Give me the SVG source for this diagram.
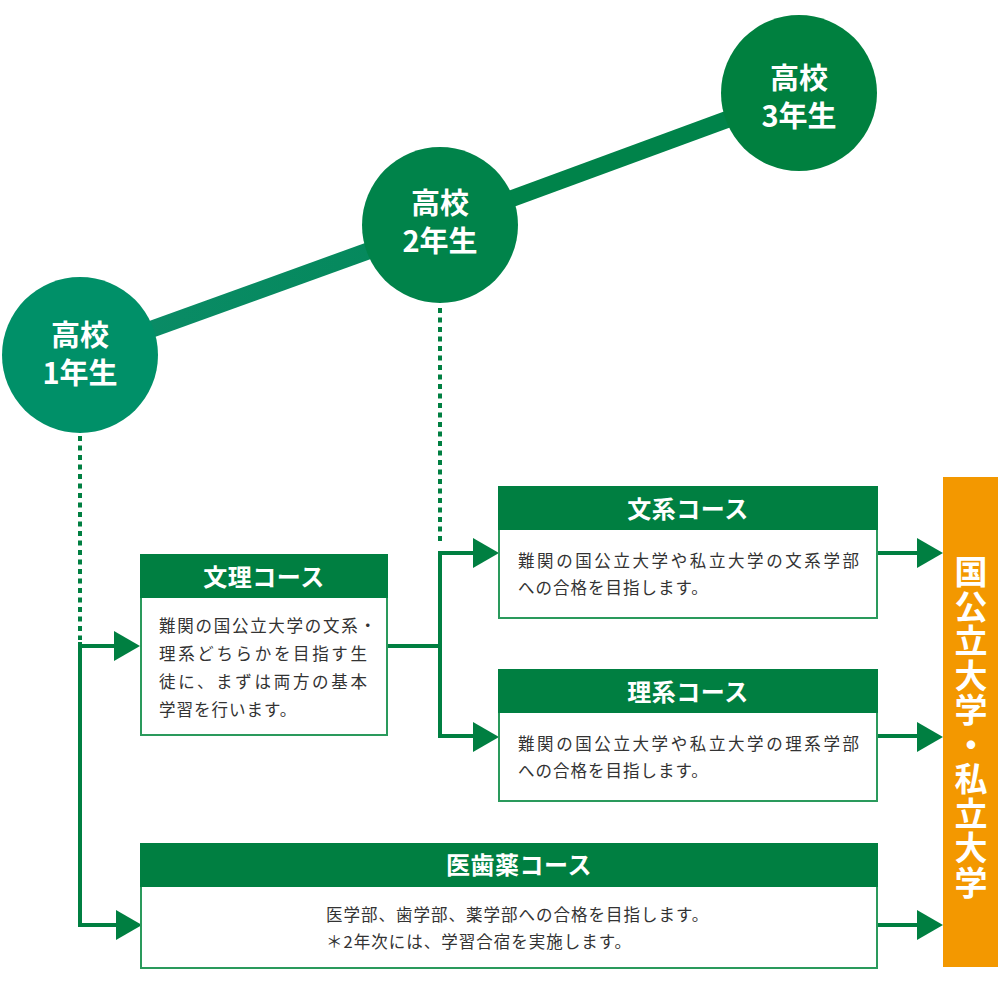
<svg xmlns="http://www.w3.org/2000/svg" width="1000" height="1000" viewBox="0 0 1000 1000">
<style>
.circ-text{font-family:"Noto Sans CJK JP","Noto Sans",sans-serif;font-size:29px;font-weight:bold;fill:#fff;text-anchor:middle;}
.hdr{fill:#007f41;}
.box{fill:#fff;stroke:#2a9a5c;stroke-width:2;}
.hdr-text{font-family:"Noto Sans CJK JP","Noto Sans",sans-serif;font-size:24px;font-weight:bold;fill:#fff;text-anchor:middle;letter-spacing:0.5px;}
.body{font-family:"Noto Sans CJK JP","Noto Sans",sans-serif;font-size:16.5px;fill:#333;letter-spacing:1px;}
.line{stroke:#007f41;stroke-width:4;fill:none;}
.dot{stroke:#007f41;stroke-width:4;fill:none;stroke-dasharray:5 4.5;}
.arrow{fill:#007f41;}
.uni{font-family:"Noto Sans CJK JP","Noto Sans",sans-serif;font-size:33px;font-weight:bold;fill:#fff;letter-spacing:1.5px;writing-mode:vertical-rl;}
</style>
<defs>
<linearGradient id="g12" x1="0" y1="0" x2="1" y2="0">
<stop offset="0" stop-color="#0b8c68"/>
<stop offset="1" stop-color="#04885a"/>
</linearGradient>
</defs>
<rect width="1000" height="1000" fill="#fff"/>

<g id="timeline">
<line x1="80" y1="355" x2="440" y2="225" stroke="url(#g12)" stroke-width="17"/>
<line x1="440" y1="225" x2="799" y2="93" stroke="#00834a" stroke-width="17"/>
</g>

<g id="connectors">
<path class="dot" d="M80 436 V640"/>
<path class="line" d="M80 642 V925 H120"/>
<path class="line" d="M78 646 H116"/>
<polygon class="arrow" points="114,631 140,646 114,661"/>
<polygon class="arrow" points="116,910 142,925 116,940"/>
<path class="dot" d="M440 308 V545"/>
<path class="line" d="M388 646 H442"/>
<path class="line" d="M474 553 H440 V736 H474"/>
<polygon class="arrow" points="473,538 499,553 473,568"/>
<polygon class="arrow" points="473,722 499,737 473,752"/>
<path class="line" d="M877 553 H919"/>
<polygon class="arrow" points="917,538 943,553 917,568"/>
<path class="line" d="M877 736 H919"/>
<polygon class="arrow" points="917,722 943,737 917,752"/>
<path class="line" d="M877 925 H919"/>
<polygon class="arrow" points="917,910 943,925 917,940"/>
</g>

<g id="year1">
<circle cx="80" cy="355" r="78" fill="#009068"/>
<text class="circ-text" x="80" y="346">高校</text>
<text class="circ-text" x="80" y="384">1年生</text>
</g>
<g id="year2">
<circle cx="440" cy="225" r="78" fill="#00834a"/>
<text class="circ-text" x="440" y="214">高校</text>
<text class="circ-text" x="440" y="252">2年生</text>
</g>
<g id="year3">
<circle cx="799" cy="93" r="78" fill="#00803f"/>
<text class="circ-text" x="799" y="89">高校</text>
<text class="circ-text" x="799" y="127">3年生</text>
</g>

<g id="bunri">
<rect class="box" x="141" y="555" width="246" height="180"/>
<rect class="hdr" x="140" y="554" width="248" height="44"/>
<text class="hdr-text" x="264" y="586">文理コース</text>
<text class="body" x="159" y="632" textLength="218" lengthAdjust="spacing">難関の国公立大学の文系・</text>
<text class="body" x="159" y="660" textLength="209" lengthAdjust="spacing">理系どちらかを目指す生</text>
<text class="body" x="159" y="688" textLength="209" lengthAdjust="spacing">徒に、まずは両方の基本</text>
<text class="body" x="159" y="716">学習を行います。</text>
</g>

<g id="bunkei">
<rect class="box" x="499" y="487" width="378" height="131"/>
<rect class="hdr" x="498" y="486" width="380" height="44"/>
<text class="hdr-text" x="688" y="518">文系コース</text>
<text class="body" x="518" y="567" textLength="342" lengthAdjust="spacing">難関の国公立大学や私立大学の文系学部</text>
<text class="body" x="518" y="594">への合格を目指します。</text>
</g>

<g id="rikei">
<rect class="box" x="499" y="670" width="378" height="131"/>
<rect class="hdr" x="498" y="669" width="380" height="44"/>
<text class="hdr-text" x="688" y="701">理系コース</text>
<text class="body" x="518" y="750" textLength="342" lengthAdjust="spacing">難関の国公立大学や私立大学の理系学部</text>
<text class="body" x="518" y="777">への合格を目指します。</text>
</g>

<g id="ishiyaku">
<rect class="box" x="141" y="844" width="736" height="124"/>
<rect class="hdr" x="140" y="843" width="738" height="44"/>
<text class="hdr-text" x="519" y="874">医歯薬コース</text>
<text class="body" x="326" y="921">医学部、歯学部、薬学部への合格を目指します。</text>
<text class="body" x="326" y="948">＊2年次には、学習合宿を実施します。</text>
</g>

<g id="university">
<rect x="943" y="477" width="55" height="490" fill="#f39800"/>
<text class="uni" x="971" y="555">国公立大学・私立大学</text>
</g>
</svg>
